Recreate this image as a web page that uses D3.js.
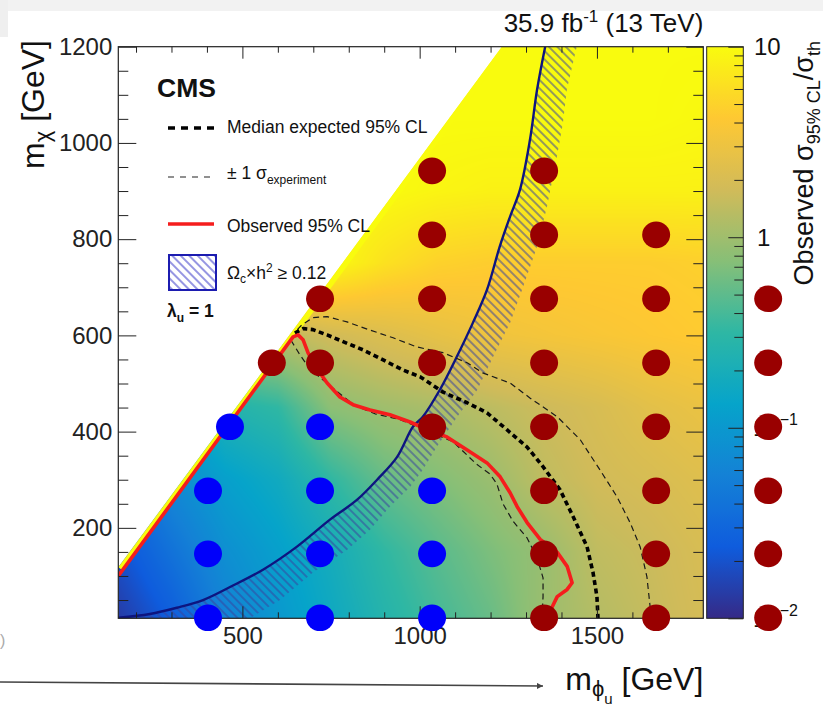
<!DOCTYPE html>
<html>
<head>
<meta charset="utf-8">
<script src="https://cdnjs.cloudflare.com/ajax/libs/d3/7.8.5/d3.min.js"></script>
<style>
  body { margin: 0; background: #fff; }
  svg { display: block; font-family: "Liberation Sans", Arial, Helvetica, sans-serif; }
</style>
</head>
<body>
<svg id="chart" width="823" height="710"></svg>
<script>
// ranges of the axes
const mPhiRange = [150, 1800];
const mChiRange = [12, 1200];
const ratioRange = [0.01, 10];

// observed sigma95/sigma_th at grid nodes
const gridPhi = [150, 300, 450, 600, 750, 900, 1050, 1200, 1350, 1500, 1650, 1800];
const gridChi = [0, 150, 300, 450, 600, 750, 900, 1050, 1200];
const ratioGrid = [
  [0.013, 0.024, 0.056, 0.098, 0.16, 0.26, 0.39, 0.55, 0.97, 1.26, 1.55, 1.9],
  [0.02, 0.04, 0.08, 0.12, 0.19, 0.32, 0.48, 0.68, 0.92, 1.45, 1.66, 2.0],
  [0.03, 0.07, 0.12, 0.17, 0.32, 0.55, 0.72, 0.95, 1.45, 1.8, 2.0, 2.3],
  [0.05, 0.1, 0.25, 0.32, 0.8, 1.0, 1.15, 1.4, 1.7, 2.0, 2.5, 2.9],
  [1.0, 1.0, 1.0, 1.4, 1.8, 2.2, 2.7, 3.2, 3.5, 3.8, 4.1, 4.4],
  [10, 10, 10, 10, 10, 6.5, 5.0, 4.6, 4.6, 4.6, 4.6, 4.8],
  [10, 10, 10, 10, 10, 10, 9.0, 8.5, 8.5, 8.5, 8.5, 8.5],
  [10, 10, 10, 10, 10, 10, 10, 10, 10, 10, 10, 9.5],
  [10, 10, 10, 10, 10, 10, 10, 10, 10, 10, 10, 10]
];

// kinematic edge of the scanned region [mPhi, mChi]
const kinematicEdge = [[150, 118], [1232, 1200]];

// contours [mPhi, mChi]
const observed = [[150,100],[643,597],[657,601],[671,591],[685,564],[719,522],[739,501],[775,472],[812,456],
  [860,445],[916,435],[973,420],[1021,404],[1077,389],[1134,362],[1190,335],[1227,306],[1255,273],[1275,244],
  [1303,211],[1340,176],[1388,149],[1416,120],[1430,86],[1416,72],[1388,57],[1374,36],[1362,12]];
const expected = [[648,605],[671,614],[699,612],[739,601],[784,587],[840,570],[897,549],[953,528],[1001,514],
  [1066,482],[1134,460],[1190,439],[1246,404],[1303,368],[1348,327],[1396,279],[1433,223],[1472,161],
  [1489,107],[1500,57],[1503,12]];
const expectedUp = [[655,612],[668,622],[699,637],[739,639],[795,628],[860,611],[925,595],[992,576],[1066,564],
  [1134,543],[1178,522],[1255,501],[1311,470],[1388,431],[1453,383],[1509,320],[1557,264],[1594,210],
  [1622,160],[1641,98],[1650,36],[1653,12]];
const expectedDown = [[637,590],[662,560],[682,539],[710,518],[761,487],[817,454],[874,437],[944,425],
  [1014,404],[1094,379],[1161,332],[1198,312],[1218,291],[1235,250],[1263,214],[1303,179],[1331,138],
  [1348,96],[1348,57],[1345,12]];
const relicLine = [[150,13],[239,21],[315,34],[389,50],[465,77],[558,113],[654,161],[747,217],[823,258],
  [880,300],[936,347],[981,410],[1009,431],[1057,487],[1105,556],[1150,626],[1190,695],[1226,785],
  [1255,847],[1283,903],[1311,1006],[1331,1110],[1354,1200]];
const relicEdge = [[521,12],[606,50],[699,107],[795,154],[860,196],[916,244],[973,285],[1009,321],[1049,369],
  [1105,430],[1162,486],[1207,555],[1255,626],[1292,701],[1331,784],[1359,867],[1387,971],[1404,1041],
  [1415,1110],[1443,1200]];

// marked mass points [mPhi, mChi]
const bluePoints = [[465,410],[719,410],[403,277],[719,277],[1035,277],[403,146],[719,146],[1035,146],
  [403,13],[719,13],[1035,13]];
const redPoints = [[1035,942],[1351,942],[1035,809],[1351,809],[1667,809],
  [719,676],[1035,676],[1351,676],[1667,676],[1983,676],
  [583,543],[719,543],[1035,543],[1351,543],[1667,543],[1983,543],
  [1035,410],[1351,410],[1667,410],[1983,410],
  [1351,277],[1667,277],[1983,277],[1351,146],[1667,146],[1983,146],[1351,13],[1667,13],[1983,13]];

// tick values
const xMajor = [500, 1000, 1500];
const xMinor = d3.range(200, 1800, 100).filter(d => d % 500 !== 0);
const yMajor = [200, 400, 600, 800, 1000, 1200];
const yMinor = d3.range(50, 1200, 50).filter(d => d % 200 !== 0);
const zMajor = [0.01, 0.1, 1, 10];
const zMinor = [1, 2, 3].flatMap(e => d3.range(2, 10).map(k => k * Math.pow(10, e - 3)));
const zLabels = [{v: 10, base: '10', exp: ''}, {v: 1, base: '1', exp: ''},
  {v: 0.1, base: '10', exp: '\u22121'}, {v: 0.01, base: '10', exp: '\u22122'}];

const birdColors = ['#352a87','#0f5cdd','#1481d6','#06a4ca','#2eb7a4','#87bf77','#d1bb59','#fec832','#f9fb0e'];

const svg = d3.select('#chart');
const plot = {left: 118.3, right: 703.3, top: 46.7, bottom: 618.3};
const x = d3.scaleLinear().domain(mPhiRange).range([plot.left, plot.right]);
const y = d3.scaleLinear().domain(mChiRange).range([plot.bottom, plot.top]);
const color = d3.scaleLog()
  .domain(birdColors.map((c, i) => Math.pow(10, -2 + 3 * i / 8)))
  .range(birdColors)
  .clamp(true);

// light grey edges of the screenshot
svg.append('rect').attr('width', 823).attr('height', 11).attr('fill', '#f2f2f2');
svg.append('rect').attr('width', 8).attr('height', 37).attr('fill', '#efefef');

const defs = svg.append('defs');
defs.append('clipPath').attr('id', 'plotClip')
  .append('rect')
    .attr('x', plot.left).attr('y', plot.top)
    .attr('width', plot.right - plot.left).attr('height', plot.bottom - plot.top);

const region = [[mPhiRange[0], mChiRange[0]], ...kinematicEdge, [mPhiRange[1], mChiRange[1]], [mPhiRange[1], mChiRange[0]]];
const line = d3.line().x(d => x(d[0])).y(d => y(d[1]));
defs.append('clipPath').attr('id', 'regionClip')
  .append('path').attr('d', line(region) + 'Z');

// hatch patterns
const hatch = defs.append('pattern').attr('id', 'hatch')
  .attr('patternUnits', 'userSpaceOnUse').attr('width', 6).attr('height', 6)
  .attr('patternTransform', 'rotate(-45)');
hatch.append('line').attr('x1', 1).attr('y1', 0).attr('x2', 1).attr('y2', 6)
  .attr('stroke', '#36439e').attr('stroke-width', 1.05);
const hatchLeg = defs.append('pattern').attr('id', 'hatchLeg')
  .attr('patternUnits', 'userSpaceOnUse').attr('width', 6).attr('height', 6)
  .attr('patternTransform', 'rotate(-45)');
hatchLeg.append('line').attr('x1', 1).attr('y1', 0).attr('x2', 1).attr('y2', 6)
  .attr('stroke', '#5d5dd2').attr('stroke-width', 1.3);

// heat map: bilinear in log(ratio) between grid nodes
const cw = Math.round(plot.right - plot.left), chh = Math.round(plot.bottom - plot.top);
const canvas = document.createElement('canvas');
canvas.width = cw; canvas.height = chh;
const ctx = canvas.getContext('2d');
const img = ctx.createImageData(cw, chh);
const logGrid = ratioGrid.map(r => r.map(v => Math.log10(v)));
const gx = d3.scaleLinear().domain(d3.extent(gridPhi)).range([0, gridPhi.length - 1]).clamp(true);
const gy = d3.scaleLinear().domain(d3.extent(gridChi)).range([0, gridChi.length - 1]).clamp(true);
const lutN = 600;
const lut = d3.range(lutN).map(k => d3.rgb(color(Math.pow(10, -2 + 3 * k / (lutN - 1)))));
for (let py = 0; py < chh; py++) {
  const fy = gy(y.invert(plot.top + py + 0.5));
  const j = Math.min(Math.floor(fy), gridChi.length - 2), ty = fy - j;
  for (let px = 0; px < cw; px++) {
    const fx = gx(x.invert(plot.left + px + 0.5));
    const i = Math.min(Math.floor(fx), gridPhi.length - 2), tx = fx - i;
    const v0 = logGrid[j][i] * (1 - tx) + logGrid[j][i + 1] * tx;
    const v1 = logGrid[j + 1][i] * (1 - tx) + logGrid[j + 1][i + 1] * tx;
    const v = v0 * (1 - ty) + v1 * ty;
    const k = Math.max(0, Math.min(lutN - 1, Math.round((v + 2) / 3 * (lutN - 1))));
    const c = lut[k], o = (py * cw + px) * 4;
    img.data[o] = c.r; img.data[o + 1] = c.g; img.data[o + 2] = c.b; img.data[o + 3] = 255;
  }
}
ctx.putImageData(img, 0, 0);

const regionG = svg.append('g').attr('clip-path', 'url(#regionClip)');
regionG.append('image')
  .attr('x', plot.left).attr('y', plot.top)
  .attr('width', cw).attr('height', chh)
  .attr('preserveAspectRatio', 'none')
  .attr('href', canvas.toDataURL());
// high ratio strip along the kinematic edge
regionG.append('path')
  .attr('d', line(kinematicEdge))
  .attr('fill', 'none').attr('stroke', color(10)).attr('stroke-width', 11);

const graph = svg.append('g').attr('clip-path', 'url(#plotClip)');

// relic density band
graph.append('path')
  .attr('d', line(relicLine.concat(relicEdge.slice().reverse())) + 'Z')
  .attr('fill', 'url(#hatch)');
graph.append('path')
  .attr('d', line.curve(d3.curveCatmullRom)(relicLine))
  .attr('fill', 'none').attr('stroke', '#0d1580').attr('stroke-width', 2.4);
line.curve(d3.curveLinear);

const contours = [
  {data: expectedUp, stroke: '#1a1a1a', width: 1.2, dash: '6,4'},
  {data: expectedDown, stroke: '#1a1a1a', width: 1.2, dash: '6,4'},
  {data: expected, stroke: '#000', width: 3.6, dash: '5,3.5'},
  {data: observed, stroke: '#f51d1d', width: 3.6, dash: null}
];
graph.selectAll('path.contour')
  .data(contours)
  .enter()
  .append('path')
    .attr('class', 'contour')
    .attr('d', d => line(d.data))
    .attr('fill', 'none')
    .attr('stroke', d => d.stroke)
    .attr('stroke-width', d => d.width)
    .attr('stroke-dasharray', d => d.dash)
    .attr('stroke-linejoin', 'round');

// frame and ticks
const tickColor = '#222';
function addAxis(axis, tx, ty, labels) {
  const g = svg.append('g').attr('transform', `translate(${tx}, ${ty})`).call(axis);
  g.select('.domain').remove();
  g.attr('color', tickColor).attr('font-family', null).attr('font-size', 24);
  if (!labels) g.selectAll('text').remove();
  return g;
}
addAxis(d3.axisBottom(x).tickValues(xMajor).tickSize(-12).tickPadding(9).tickFormat(d3.format('d')), 0, plot.bottom, true);
addAxis(d3.axisBottom(x).tickValues(xMinor).tickSize(-6), 0, plot.bottom, false);
addAxis(d3.axisTop(x).tickValues(xMajor).tickSize(-12), 0, plot.top, false);
addAxis(d3.axisTop(x).tickValues(xMinor).tickSize(-6), 0, plot.top, false);
addAxis(d3.axisLeft(y).tickValues(yMajor).tickSize(-18).tickPadding(6).tickFormat(d3.format('d')), plot.left, 0, true);
addAxis(d3.axisLeft(y).tickValues(yMinor).tickSize(-10), plot.left, 0, false);
addAxis(d3.axisRight(y).tickValues(yMajor).tickSize(-17), plot.right, 0, false);
addAxis(d3.axisRight(y).tickValues(yMinor).tickSize(-10), plot.right, 0, false);
svg.append('rect')
  .attr('x', plot.left).attr('y', plot.top)
  .attr('width', plot.right - plot.left).attr('height', plot.bottom - plot.top)
  .attr('fill', 'none').attr('stroke', tickColor).attr('stroke-width', 1.2);

// colour bar
const cb = {left: 706.7, right: 743.3};
const z = d3.scaleLog().domain(ratioRange).range([plot.bottom, plot.top]);
const grad = defs.append('linearGradient').attr('id', 'cbGrad')
  .attr('x1', 0).attr('y1', 1).attr('x2', 0).attr('y2', 0);
grad.selectAll('stop')
  .data(d3.range(0, 1.0001, 1 / 48))
  .enter()
  .append('stop')
    .attr('offset', d => d)
    .attr('stop-color', d => color(Math.pow(10, -2 + 3 * d)));
svg.append('rect')
  .attr('x', cb.left).attr('y', plot.top)
  .attr('width', cb.right - cb.left).attr('height', plot.bottom - plot.top)
  .attr('fill', 'url(#cbGrad)').attr('stroke', tickColor).attr('stroke-width', 1);
addAxis(d3.axisLeft(z).tickValues(zMajor).tickSize(15), cb.right, 0, false);
addAxis(d3.axisLeft(z).tickValues(zMinor).tickSize(9), cb.right, 0, false);

const zText = svg.append('g').attr('font-size', 24).attr('fill', '#111');
zLabels.forEach(d => {
  const t = zText.append('text').attr('x', d.exp ? 753 : (d.v === 1 ? 757 : 754)).attr('y', z(d.v) + 8.5);
  t.append('tspan').text(d.base);
  if (d.exp) t.append('tspan').attr('font-size', 16).attr('dy', -11).text(d.exp);
});

// rich text helper
function rich(sel, parts) {
  parts.forEach(p => {
    const s = sel.append('tspan').text(p.t);
    if (p.size) s.attr('font-size', p.size);
    if (p.dy) s.attr('dy', p.dy);
  });
  return sel;
}

rich(svg.append('text')
  .attr('transform', 'translate(813, 41) rotate(-90)')
  .attr('text-anchor', 'end').attr('font-size', 27).attr('fill', '#111'),
  [{t: 'Observed \u03c3'}, {t: '95% CL', size: 18, dy: 7}, {t: '/\u03c3', size: 27, dy: -7}, {t: 'th', size: 18, dy: 7}]);

// axis titles
rich(svg.append('text')
  .attr('transform', 'translate(44, 40) rotate(-90)')
  .attr('text-anchor', 'end').attr('font-size', 32).attr('fill', '#111'),
  [{t: 'm'}, {t: '\u03c7', size: 22, dy: 6}, {t: ' [GeV]', size: 32, dy: -6}]);
rich(svg.append('text')
  .attr('x', plot.right).attr('y', 690)
  .attr('text-anchor', 'end').attr('font-size', 32).attr('fill', '#111'),
  [{t: 'm'}, {t: '\u03d5', size: 22, dy: 6}, {t: 'u', size: 15, dy: 8}, {t: ' [GeV]', size: 32, dy: -14}]);

rich(svg.append('text')
  .attr('x', plot.right).attr('y', 32)
  .attr('text-anchor', 'end').attr('font-size', 26).attr('fill', '#111'),
  [{t: '35.9 fb'}, {t: '-1', size: 17, dy: -10}, {t: ' (13 TeV)', size: 26, dy: 10}]);

// legend
svg.append('text').attr('x', 157).attr('y', 97)
  .attr('font-size', 26.5).attr('font-weight', 'bold').attr('fill', '#111').text('CMS');

const legend = svg.append('g').attr('font-size', 17.5).attr('fill', '#111');
const legItems = [
  {y: 128, stroke: '#000', width: 3.5, dash: '7,6', base: 133, parts: [{t: 'Median expected 95% CL'}]},
  {y: 177, stroke: '#222', width: 1.1, dash: '6,6', base: 179,
    parts: [{t: '\u00b1 1 \u03c3'}, {t: 'experiment', size: 12, dy: 5}]},
  {y: 224, stroke: '#f51d1d', width: 3.6, dash: null, base: 232, parts: [{t: 'Observed 95% CL'}]}
];
legItems.forEach(d => {
  legend.append('line')
    .attr('x1', 168).attr('x2', 214).attr('y1', d.y).attr('y2', d.y)
    .attr('stroke', d.stroke).attr('stroke-width', d.width).attr('stroke-dasharray', d.dash);
  rich(legend.append('text').attr('x', 227).attr('y', d.base), d.parts);
});
legend.append('rect')
  .attr('x', 169).attr('y', 255).attr('width', 47).attr('height', 35)
  .attr('fill', 'url(#hatchLeg)').attr('stroke', '#1c1cb0').attr('stroke-width', 2);
rich(legend.append('text').attr('x', 227).attr('y', 279),
  [{t: '\u03a9'}, {t: 'c', size: 12, dy: 4}, {t: '\u00d7h', size: 17.5, dy: -4}, {t: '2', size: 12, dy: -7},
   {t: ' \u2265 0.12', size: 17.5, dy: 7}]);
rich(legend.append('text').attr('x', 167).attr('y', 317).attr('font-weight', 'bold'),
  [{t: '\u03bb'}, {t: 'u', size: 12, dy: 5}, {t: ' = 1', size: 17.5, dy: -5}]);

// marked points
const dots = svg.append('g');
dots.selectAll('ellipse.blue')
  .data(bluePoints)
  .enter()
  .append('ellipse')
    .attr('class', 'blue')
    .attr('cx', d => x(d[0])).attr('cy', d => y(d[1]))
    .attr('rx', 14).attr('ry', 13.3)
    .attr('fill', '#0000fa');
dots.selectAll('ellipse.red')
  .data(redPoints)
  .enter()
  .append('ellipse')
    .attr('class', 'red')
    .attr('cx', d => x(d[0])).attr('cy', d => y(d[1]))
    .attr('rx', 14).attr('ry', 13.3)
    .attr('fill', '#990000');

// arrow under the plot
defs.append('marker').attr('id', 'arrow')
  .attr('viewBox', '0 0 10 10').attr('refX', 10).attr('refY', 5)
  .attr('markerWidth', 10).attr('markerHeight', 6).attr('orient', 'auto')
  .attr('markerUnits', 'userSpaceOnUse')
  .append('path').attr('d', 'M0,0L10,5L0,10Z').attr('fill', '#444');
svg.append('line')
  .attr('x1', 0).attr('y1', 682).attr('x2', 543).attr('y2', 686)
  .attr('stroke', '#444').attr('stroke-width', 1.6)
  .attr('marker-end', 'url(#arrow)');
svg.append('text').attr('x', 0).attr('y', 646).attr('font-size', 16).attr('fill', '#aaa').text(')');
</script>
</body>
</html>
